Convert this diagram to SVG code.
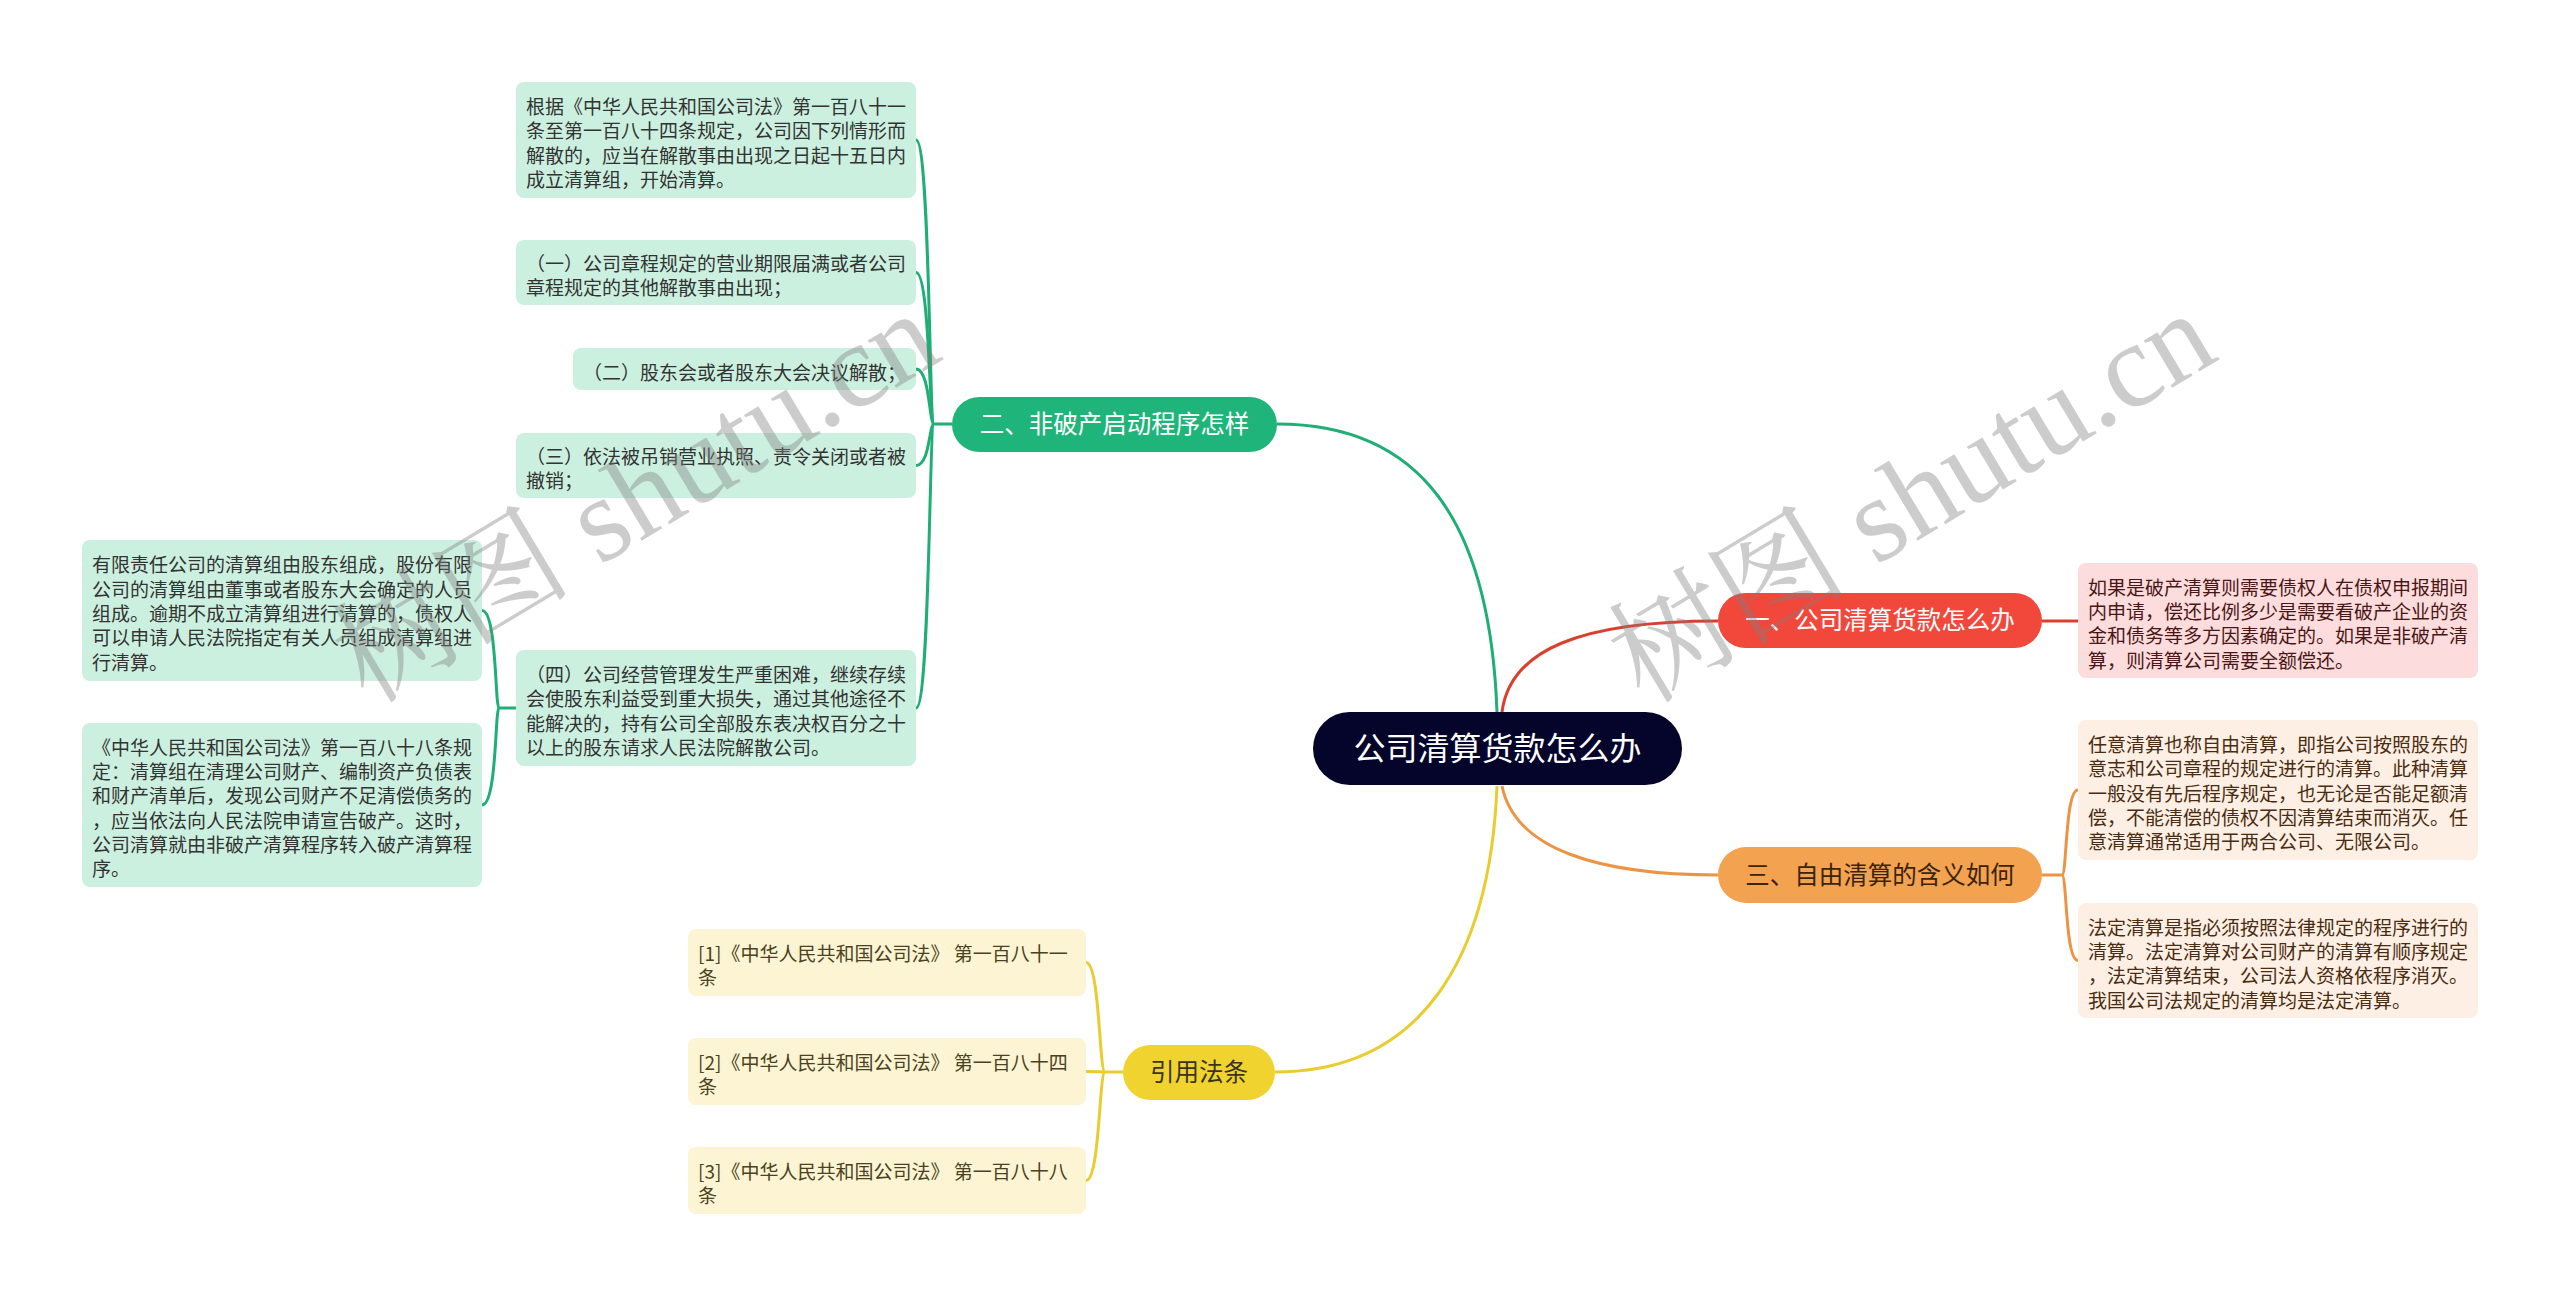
<svg xmlns="http://www.w3.org/2000/svg" width="2560" height="1296" viewBox="0 0 2560 1296">
<style>
.cn{font-family:"Noto Sans CJK SC","Liberation Sans",sans-serif;}
.leaf{font-size:19px;}
.br{font-size:24.5px;text-anchor:middle;}
.lg{fill:#ccf0df;}
.lr{fill:#fcdcdc;}
.lo{fill:#fdefe3;}
.ly{fill:#fcf4d3;}
.tg{fill:#333333;}
.tr{fill:#4a1616;}
.to{fill:#4a2c12;}
.ty{fill:#4a4220;}
.cg{fill:none;stroke:#1fae76;stroke-width:3;}
.cr{fill:none;stroke:#d9412f;stroke-width:3;}
.co{fill:none;stroke:#eb9544;stroke-width:3;}
.cy{fill:none;stroke:#e9cc2e;stroke-width:3;}
.wm{font-family:"Liberation Serif","Noto Serif CJK SC","Noto Sans CJK SC",serif;font-size:120px;fill:#808080;fill-opacity:0.4;}
</style>
<rect width="2560" height="1296" fill="#ffffff"/>
<g id="connectors">
<path class="cg" d="M1497 712 C1490 520 1420 424 1277 424"/>
<path class="cg" d="M952 424 L934 424"/>
<path class="cg" d="M934 424 C929 424 930 140 916 140"/>
<path class="cg" d="M934 424 C929 424 930 272.5 916 272.5"/>
<path class="cg" d="M934 424 C929 424 930 369 916 369"/>
<path class="cg" d="M934 424 C929 424 930 465.5 916 465.5"/>
<path class="cg" d="M934 424 C929 424 930 708 916 708"/>
<path class="cg" d="M516 708 L499 708"/>
<path class="cg" d="M499 708 C495 708 497 610.5 482 610.5"/>
<path class="cg" d="M499 708 C495 708 497 805 482 805"/>
<path class="cr" d="M1502 712 C1510 650 1580 621 1718 621"/>
<path class="cr" d="M2042 621 L2078 621"/>
<path class="co" d="M1502 786 C1515 850 1600 875 1718 875"/>
<path class="co" d="M2042 875 L2062 875"/>
<path class="co" d="M2062 875 C2067 875 2065 790 2078 790"/>
<path class="co" d="M2062 875 C2067 875 2065 960.5 2078 960.5"/>
<path class="cy" d="M1497 786 C1490 960 1420 1072 1275 1072"/>
<path class="cy" d="M1123 1072 L1105 1072"/>
<path class="cy" d="M1105 1072 C1099 1072 1100 962.5 1086 962.5"/>
<path class="cy" d="M1105 1072 C1099 1072 1100 1071.5 1086 1071.5"/>
<path class="cy" d="M1105 1072 C1099 1072 1100 1180.5 1086 1180.5"/>
</g>
<g id="root">
<rect x="1313" y="712" width="369" height="73" rx="36.5" fill="#05052c"/>
<text class="cn" x="1497.5" y="760" font-size="32" text-anchor="middle" fill="#ffffff">公司清算货款怎么办</text>
</g>
<g id="branch-2">
<rect x="952" y="397" width="325" height="55" rx="27.5" fill="#1fb57a"/>
<text class="cn br" x="1114.5" y="433" fill="#ffffff">二、非破产启动程序怎样</text>
</g>
<g id="branch-1">
<rect x="1718" y="593" width="324" height="55" rx="27.5" fill="#f2473b"/>
<text class="cn br" x="1880" y="629" fill="#ffffff">一、公司清算货款怎么办</text>
</g>
<g id="branch-3">
<rect x="1718" y="847" width="324" height="56" rx="28" fill="#f3a24f"/>
<text class="cn br" x="1880" y="883.5" fill="#3a240e">三、自由清算的含义如何</text>
</g>
<g id="branch-ref">
<rect x="1123" y="1045" width="152" height="55" rx="27.5" fill="#f1d330"/>
<text class="cn br" x="1199" y="1081" fill="#3a3320">引用法条</text>
</g>
<g id="leaf-g1">
<rect class="lg" x="516" y="82" width="400" height="116" rx="8"/>
<text class="cn leaf tg"><tspan x="526" y="114">根据《中华人民共和国公司法》第一百八十一</tspan><tspan x="526" y="138.3">条至第一百八十四条规定，公司因下列情形而</tspan><tspan x="526" y="162.6">解散的，应当在解散事由出现之日起十五日内</tspan><tspan x="526" y="186.9">成立清算组，开始清算。</tspan></text>
</g>
<g id="leaf-g2">
<rect class="lg" x="516" y="240" width="400" height="65" rx="8"/>
<text class="cn leaf tg"><tspan x="526" y="270.9">（一）公司章程规定的营业期限届满或者公司</tspan><tspan x="526" y="295.2">章程规定的其他解散事由出现；</tspan></text>
</g>
<g id="leaf-g3">
<rect class="lg" x="573" y="348" width="343" height="42" rx="8"/>
<text class="cn leaf tg"><tspan x="583" y="379.5">（二）股东会或者股东大会决议解散；</tspan></text>
</g>
<g id="leaf-g4">
<rect class="lg" x="516" y="433" width="400" height="65" rx="8"/>
<text class="cn leaf tg"><tspan x="526" y="463.9">（三）依法被吊销营业执照、责令关闭或者被</tspan><tspan x="526" y="488.2">撤销；</tspan></text>
</g>
<g id="leaf-g5">
<rect class="lg" x="516" y="650" width="400" height="116" rx="8"/>
<text class="cn leaf tg"><tspan x="526" y="682">（四）公司经营管理发生严重困难，继续存续</tspan><tspan x="526" y="706.3">会使股东利益受到重大损失，通过其他途径不</tspan><tspan x="526" y="730.6">能解决的，持有公司全部股东表决权百分之十</tspan><tspan x="526" y="754.9">以上的股东请求人民法院解散公司。</tspan></text>
</g>
<g id="leaf-g5a">
<rect class="lg" x="82" y="540" width="400" height="141" rx="8"/>
<text class="cn leaf tg"><tspan x="92" y="572.4">有限责任公司的清算组由股东组成，股份有限</tspan><tspan x="92" y="596.7">公司的清算组由董事或者股东大会确定的人员</tspan><tspan x="92" y="621">组成。逾期不成立清算组进行清算的，债权人</tspan><tspan x="92" y="645.3">可以申请人民法院指定有关人员组成清算组进</tspan><tspan x="92" y="669.6">行清算。</tspan></text>
</g>
<g id="leaf-g5b">
<rect class="lg" x="82" y="723" width="400" height="164" rx="8"/>
<text class="cn leaf tg"><tspan x="92" y="754.8">《中华人民共和国公司法》第一百八十八条规</tspan><tspan x="92" y="779.1">定：清算组在清理公司财产、编制资产负债表</tspan><tspan x="92" y="803.4">和财产清单后，发现公司财产不足清偿债务的</tspan><tspan x="92" y="827.7">，应当依法向人民法院申请宣告破产。这时，</tspan><tspan x="92" y="852">公司清算就由非破产清算程序转入破产清算程</tspan><tspan x="92" y="876.3">序。</tspan></text>
</g>
<g id="leaf-r1">
<rect class="lr" x="2078" y="563" width="400" height="115" rx="8"/>
<text class="cn leaf tr"><tspan x="2088" y="594.6">如果是破产清算则需要债权人在债权申报期间</tspan><tspan x="2088" y="618.9">内申请，偿还比例多少是需要看破产企业的资</tspan><tspan x="2088" y="643.2">金和债务等多方因素确定的。如果是非破产清</tspan><tspan x="2088" y="667.5">算，则清算公司需要全额偿还。</tspan></text>
</g>
<g id="leaf-o1">
<rect class="lo" x="2078" y="720" width="400" height="140" rx="8"/>
<text class="cn leaf to"><tspan x="2088" y="751.9">任意清算也称自由清算，即指公司按照股东的</tspan><tspan x="2088" y="776.2">意志和公司章程的规定进行的清算。此种清算</tspan><tspan x="2088" y="800.5">一般没有先后程序规定，也无论是否能足额清</tspan><tspan x="2088" y="824.8">偿，不能清偿的债权不因清算结束而消灭。任</tspan><tspan x="2088" y="849.1">意清算通常适用于两合公司、无限公司。</tspan></text>
</g>
<g id="leaf-o2">
<rect class="lo" x="2078" y="903" width="400" height="115" rx="8"/>
<text class="cn leaf to"><tspan x="2088" y="934.6">法定清算是指必须按照法律规定的程序进行的</tspan><tspan x="2088" y="958.9">清算。法定清算对公司财产的清算有顺序规定</tspan><tspan x="2088" y="983.2">，法定清算结束，公司法人资格依程序消灭。</tspan><tspan x="2088" y="1007.5">我国公司法规定的清算均是法定清算。</tspan></text>
</g>
<g id="leaf-y1">
<rect class="ly" x="688" y="929" width="398" height="67" rx="8"/>
<text class="cn leaf ty"><tspan x="698" y="960.9">[1]《中华人民共和国公司法》 第一百八十一</tspan><tspan x="698" y="985.2">条</tspan></text>
</g>
<g id="leaf-y2">
<rect class="ly" x="688" y="1038" width="398" height="67" rx="8"/>
<text class="cn leaf ty"><tspan x="698" y="1069.9">[2]《中华人民共和国公司法》 第一百八十四</tspan><tspan x="698" y="1094.2">条</tspan></text>
</g>
<g id="leaf-y3">
<rect class="ly" x="688" y="1147" width="398" height="67" rx="8"/>
<text class="cn leaf ty"><tspan x="698" y="1178.9">[3]《中华人民共和国公司法》 第一百八十八</tspan><tspan x="698" y="1203.2">条</tspan></text>
</g>
<g id="watermarks">
<text class="wm" transform="translate(368 705) rotate(-31)">树图 shutu.cn</text>
<text class="wm" transform="translate(1644 705) rotate(-31)">树图 shutu.cn</text>
</g>
</svg>
